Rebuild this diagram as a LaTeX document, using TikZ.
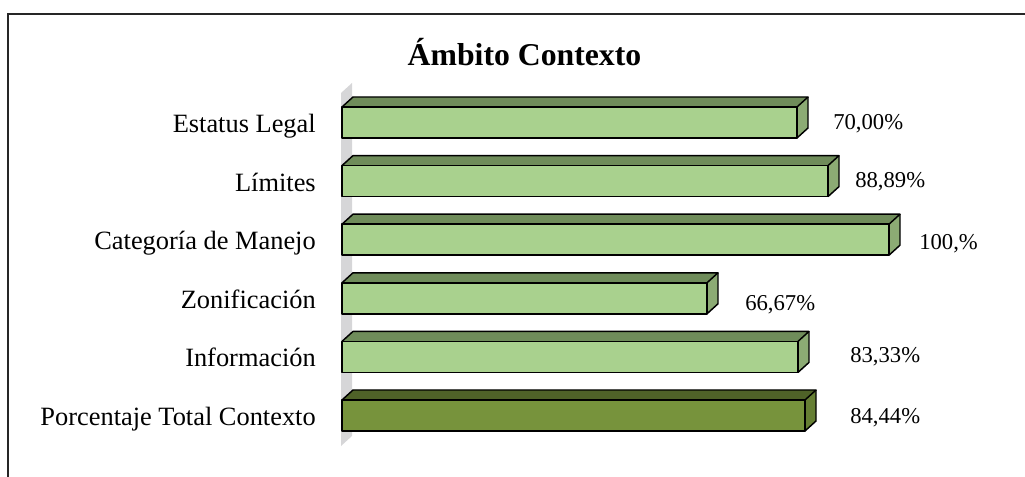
\documentclass[tikz,border=0pt]{standalone}
\usepackage{fontspec}
\setmainfont{Liberation Serif}
\definecolor{barfront}{HTML}{A9D18E}
\definecolor{bartop}{HTML}{6F8C5A}
\definecolor{barside}{HTML}{8CAB74}
\definecolor{totfront}{HTML}{77933C}
\definecolor{tottop}{HTML}{4F6228}
\definecolor{totside}{HTML}{667F34}
\definecolor{wallgray}{HTML}{D6D6D8}
\tikzset{
  catlabel/.style={anchor=base east, inner sep=0pt, font=\fontsize{19.8}{24}\selectfont},
  vallabel/.style={anchor=base west, inner sep=0pt, font=\fontsize{17}{20}\selectfont},
  titlelabel/.style={anchor=base, inner sep=0pt, font=\fontsize{23.8}{28}\selectfont\bfseries},
  barline/.style={draw=black, line width=1.1pt, line join=round},
}
% #1 top y, #2 right x, #3 front colour, #4 top colour, #5 side colour
\newcommand\cbarbox[5]{%
  \pgfmathsetmacro\bt{#1}\pgfmathsetmacro\bb{#1+31}%
  \fill[#4] (342,\bt) -- (353,\bt-10) -- (#2+11,\bt-10) -- (#2,\bt) -- cycle;
  \fill[#5] (#2,\bt) -- (#2+11,\bt-10) -- (#2+11,\bb-10) -- (#2,\bb) -- cycle;
  \draw[barline] (342,\bt) -- (353,\bt-10) -- (#2+11,\bt-10) -- (#2,\bt);
  \draw[barline] (#2+11,\bt-10) -- (#2+11,\bb-10) -- (#2,\bb);
  \draw[barline, fill=#3] (342,\bt) rectangle (#2,\bb);
}
\begin{document}
\begin{tikzpicture}[x=0.75pt,y=-0.75pt]
\useasboundingbox (0,0) rectangle (1025,477);
% frame
\draw[line width=1.2pt, black!85] (8,477) -- (8,14) -- (1025,14);
% title
\node[titlelabel] (title) at (524.5,66) {Ámbito Contexto};
% wall
\fill[wallgray] (341,93) -- (352,83) -- (352,436) -- (341,446) -- cycle;
% bars
\cbarbox{107}{797}{barfront}{bartop}{barside}
\cbarbox{165.6}{828}{barfront}{bartop}{barside}
\cbarbox{224.2}{889}{barfront}{bartop}{barside}
\cbarbox{282.8}{707}{barfront}{bartop}{barside}
\cbarbox{341.4}{798}{barfront}{bartop}{barside}
\cbarbox{400}{805}{totfront}{tottop}{totside}
% category labels
\node[catlabel] (c1) at (316,132.5) {Estatus Legal};
\node[catlabel] (c2) at (316,191.1) {Límites};
\node[catlabel] (c3) at (316,249.7) {Categoría de Manejo};
\node[catlabel] (c4) at (316,308.3) {Zonificación};
\node[catlabel] (c5) at (316,366.9) {Información};
\node[catlabel] (c6) at (316,425.5) {Porcentaje Total Contexto};
% value labels
\node[vallabel] (v1) at (833,130) {70,00\%};
\node[vallabel] (v2) at (855,188) {88,89\%};
\node[vallabel] (v3) at (919,250) {100,\%};
\node[vallabel] (v4) at (745,311) {66,67\%};
\node[vallabel] (v5) at (850,363) {83,33\%};
\node[vallabel] (v6) at (850,423) {84,44\%};
\end{tikzpicture}
\end{document}
